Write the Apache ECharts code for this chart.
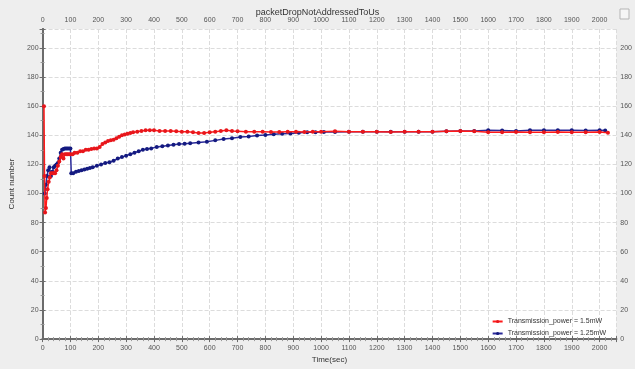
<!DOCTYPE html>
<html><head><meta charset="utf-8">
<script src="https://cdn.jsdelivr.net/npm/echarts@6/dist/echarts.min.js"></script>
<style>html,body{margin:0;padding:0;background:#eeeeee;}#c{width:635px;height:369px;}</style>
</head><body><div id="c"></div>
<script>
const chartTitle = 'packetDropNotAddressedToUs';
const xName = 'Time(sec)';
const yName = 'Count number';
const seriesNames = ['Transmission_power = 1.5mW', 'Transmission_power = 1.25mW'];

const redT = [5,7,9,12,15,18,22,26,30,35,40,45,50,55,60,65,70,75,80,85,90,95,100,108,115,125,135,145,155,165,175,185,195,205,215,225,235,245,255,265,275,285,295,305,315,325,340,355,370,385,400,420,440,460,480,500,520,540,560,580,600,620,640,660,680,700,730,760,790,820,850,880,910,940,970,1000,1050,1100,1150,1200,1250,1300,1350,1400,1450,1500,1550,1600,1650,1700,1750,1800,1850,1900,1950,2000,2030];
const redV = [160,112,87,90,97,103,108,111,114,114,114,114,116,119,122,125,127,124,127,127,127,127,127,127,128,128,129,129,130,130,130.5,131,131,132,134,135,136,136.5,137,138,139,140,140.5,141,141.5,142,142.5,143,143.5,143.5,143.5,143,143,143,142.8,142.5,142.5,142,141.5,141.5,142,142.5,143,143.5,143,142.8,142.5,142.5,142.5,142.3,142.3,142.5,142.5,142.3,142.5,142.5,142.8,142.5,142.5,142.5,142.3,142.5,142.5,142.5,142.8,143,142.8,142,142,142.3,142,142,142.3,142,142,142.3,141.8];

const blueT = [8,12,16,20,25,30,35,40,45,50,55,60,65,70,75,80,85,90,95,100,103,110,120,130,140,150,160,170,180,195,210,225,240,255,270,285,300,315,330,345,360,375,390,410,430,450,470,490,510,530,560,590,620,650,680,710,740,770,800,830,860,890,920,950,980,1010,1050,1100,1150,1200,1250,1300,1350,1400,1450,1500,1550,1600,1650,1700,1750,1800,1850,1900,1950,2000,2020];
const blueV = [100,106,112,116,118,112,115,118,119,120,121,124,128,130,130.5,131,131,131,131,131,114,114,115,115.5,116,116.5,117,117.5,118,119,120,121,121.5,122.5,124,125,126,127,128,129,130,130.5,131,132,132.5,133,133.5,134,134.2,134.5,135,135.5,136.5,137.5,138,138.8,139.2,139.8,140.2,140.7,141,141.3,141.7,142,142,142.2,142.3,142.5,142.5,142.5,142.5,142.5,142.5,142.5,142.8,143,143,143.5,143.3,143,143.5,143.5,143.5,143.5,143.3,143.5,143.2];

const xMin = 0, xMax = 2060, xStep = 100;
const yMin = 0, yMax = 213, yStep = 20;

function pairs(t, v) { return t.map((x, i) => [x, v[i]]); }
const plain = v => String(v);

const chart = echarts.init(document.getElementById('c'), null, {renderer: 'canvas'});
const axisLineStyle = {show: true, lineStyle: {color: '#6b6b6b', width: 2}};
const lab = {color: '#555', fontSize: 7, fontFamily: 'Liberation Sans, Arial, sans-serif', formatter: plain};
const split = {show: true, lineStyle: {color: '#dcdcdc', type: 'dashed', width: 1}};
function xAx(pos, showName) {
  return {
    type: 'value', position: pos, min: xMin, max: xMax, interval: xStep,
    name: showName ? xName : '', nameLocation: 'middle', nameGap: 13,
    nameTextStyle: {color: '#333', fontSize: 8, fontFamily: 'Liberation Sans, Arial, sans-serif'},
    axisLine: axisLineStyle,
    axisTick: {show: true, length: 3, lineStyle: {color: '#6b6b6b'}},
    minorTick: {show: true, splitNumber: 5, length: 2, lineStyle: {color: '#999'}},
    axisLabel: Object.assign({margin: 5, showMaxLabel: false}, lab),
    splitLine: pos === 'bottom' ? split : {show: false}
  };
}
function yAx(pos, showName) {
  return {
    type: 'value', position: pos, min: yMin, max: yMax, interval: yStep,
    name: showName ? yName : '', nameLocation: 'middle', nameGap: 22,
    nameTextStyle: {color: '#333', fontSize: 8, fontFamily: 'Liberation Sans, Arial, sans-serif'},
    axisLine: axisLineStyle,
    axisTick: {show: true, length: 3, lineStyle: {color: '#6b6b6b'}},
    minorTick: {show: true, splitNumber: 2, length: 2, lineStyle: {color: '#999'}},
    axisLabel: Object.assign({margin: 4, showMaxLabel: false}, lab),
    splitLine: pos === 'left' ? split : {show: false}
  };
}
chart.setOption({
  backgroundColor: '#eeeeee',
  animation: false,
  title: {text: chartTitle, left: 'center', top: 3, textStyle: {fontSize: 9, fontWeight: 'normal', color: '#333', fontFamily: 'Liberation Sans, Arial, sans-serif'}},
  grid: {left: 35, right: 16, top: 29, bottom: 22, show: true, backgroundColor: '#ffffff', borderWidth: 0},
  xAxis: [xAx('bottom', true), xAx('top', false)],
  yAxis: [yAx('left', true), yAx('right', false)],
  legend: {
    orient: 'vertical', right: 24, bottom: 27, itemWidth: 10, itemHeight: 4, itemGap: 5,
    textStyle: {fontSize: 7, color: '#333', fontFamily: 'Liberation Sans, Arial, sans-serif'},
    data: seriesNames
  },
  graphic: [{type: 'rect', shape: {x: 620, y: 9, width: 9, height: 10}, style: {fill: '#f6f6f6', stroke: '#b5b5b5', lineWidth: 1}}],
  series: [
    {name: seriesNames[0], type: 'line', data: pairs(redT, redV), symbol: 'circle', symbolSize: 4,
     lineStyle: {color: '#ff1a1a', width: 1.5}, itemStyle: {color: '#e8161b'}, z: 3},
    {name: seriesNames[1], type: 'line', data: pairs(blueT, blueV), symbol: 'circle', symbolSize: 4,
     lineStyle: {color: '#2a2a9a', width: 1.5}, itemStyle: {color: '#141a80'}, z: 2}
  ]
});
</script></body></html>
